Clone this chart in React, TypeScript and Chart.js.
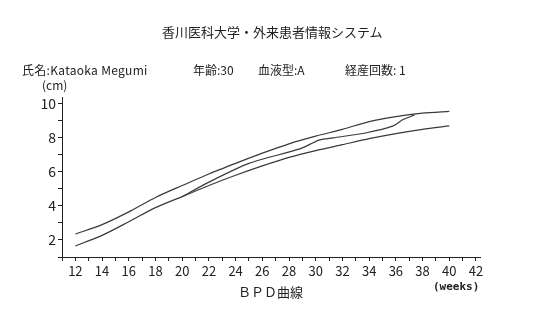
import React, { useEffect, useRef } from "react";
import { Chart, registerables } from "chart.js";

Chart.register(...registerables);

const normWeeks = [12, 14, 16, 18, 20, 22, 24, 26, 28, 30, 32, 34, 36, 38, 40];
const upperLimit = [2.35, 2.9, 3.65, 4.5, 5.2, 5.88, 6.5, 7.1, 7.65, 8.1, 8.5, 8.95, 9.25, 9.45, 9.55];
const lowerLimit = [1.65, 2.27, 3.07, 3.9, 4.55, 5.2, 5.8, 6.35, 6.85, 7.25, 7.6, 7.95, 8.25, 8.5, 8.7];
const patientWeeks = [20, 22, 25, 28.8, 30.3, 31.3, 33.8, 35.8, 36.5, 37.4];
const patientBPD = [4.55, 5.4, 6.5, 7.35, 7.88, 8.0, 8.3, 8.7, 9.06, 9.35];
const xTickValues = [11, 12, 13, 14, 15, 16, 17, 18, 19, 20, 21, 22, 23, 24, 25, 26, 27, 28, 29, 30, 31, 32, 33, 34, 35, 36, 37, 38, 39, 40, 41, 42];
const xTickLabels = ["12", "14", "16", "18", "20", "22", "24", "26", "28", "30", "32", "34", "36", "38", "40", "42"];
const yTickValues = [1, 2, 3, 4, 5, 6, 7, 8, 9, 10];
const yTickLabels = ["2", "4", "6", "8", "10"];

const FONT = "'Noto Sans CJK JP', sans-serif";
const INK = "#222";

export default function App() {
  const ref = useRef<HTMLCanvasElement>(null);
  useEffect(() => {
    if (!ref.current) return;
    const lineStyle = {
      borderColor: "#3a3a3a",
      borderWidth: 1.2,
      pointRadius: 0,
      tension: 0.25,
      fill: false,
    };
    const chart = new Chart(ref.current, {
      type: "line",
      data: {
        datasets: [
          { ...lineStyle, label: "upper", data: normWeeks.map((w, i) => ({ x: w, y: upperLimit[i] })) },
          { ...lineStyle, label: "lower", data: normWeeks.map((w, i) => ({ x: w, y: lowerLimit[i] })) },
          { ...lineStyle, label: "patient", data: patientWeeks.map((w, i) => ({ x: w, y: patientBPD[i] })) },
        ],
      },
      options: {
        animation: false,
        responsive: false,
        maintainAspectRatio: false,
        layout: { padding: { left: 0, top: 97, right: 56, bottom: 0 } },
        plugins: { legend: { display: false }, tooltip: { enabled: false }, title: { display: false } },
        scales: {
          x: {
            type: "linear",
            min: 11,
            max: 42.3,
            afterFit: (s: any) => { s.height = 66; },
            afterBuildTicks: (s: any) => { s.ticks = xTickValues.map((v) => ({ value: v })); },
            border: { display: true, color: INK, width: 1 },
            grid: { drawOnChartArea: false, drawTicks: true, tickLength: 4, color: INK },
            ticks: {
              autoSkip: false,
              maxRotation: 0,
              padding: 2,
              color: INK,
              font: { family: FONT, size: 13 },
              callback: (v: any) => (xTickLabels.includes(String(v)) ? String(v) : ""),
            },
          },
          y: {
            type: "linear",
            min: 1,
            max: 10.4,
            afterFit: (s: any) => { s.width = 62; },
            afterBuildTicks: (s: any) => { s.ticks = yTickValues.map((v) => ({ value: v })); },
            border: { display: true, color: INK, width: 1 },
            grid: { drawOnChartArea: false, drawTicks: true, tickLength: 4, color: INK },
            ticks: {
              autoSkip: false,
              padding: 2,
              color: INK,
              font: { family: FONT, size: 14 },
              callback: (v: any) => (yTickLabels.includes(String(v)) ? String(v) : ""),
            },
          },
        },
      },
    });
    return () => chart.destroy();
  }, []);

  const txt = (left: number, top: number, size: number, s: string, extra: any = {}) => (
    <div style={{ position: "absolute", left, top, fontSize: size, fontFamily: FONT, color: INK, lineHeight: 1, whiteSpace: "pre", ...extra }}>{s}</div>
  );

  return (
    <div style={{ position: "fixed", left: 0, top: 0, width: 536, height: 323, background: "#fff" }}>
      <canvas ref={ref} width={536} height={323} style={{ position: "absolute", left: 0, top: 0 }} />
      {txt(162, 25, 13, "香川医科大学・外来患者情報システム")}
      {txt(22, 64, 12, "氏名:Kataoka Megumi", { letterSpacing: 0.3 })}
      {txt(193, 64, 12, "年齢:30")}
      {txt(258, 64, 12, "血液型:A")}
      {txt(345, 64, 12, "経産回数: 1")}
      {txt(42, 79, 12, "(cm)")}
      {txt(238, 285, 13, "ＢＰＤ曲線")}
      {txt(433, 281, 11, "(weeks)", { fontFamily: "'DejaVu Sans Mono', monospace", fontWeight: "bold" })}
    </div>
  );
}
